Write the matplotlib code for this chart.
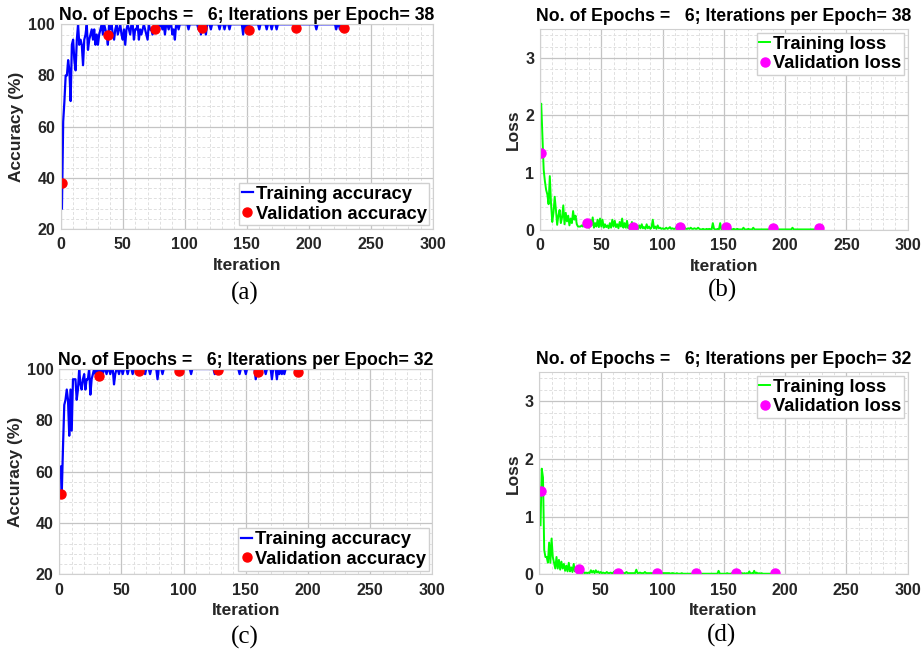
import matplotlib
matplotlib.use("Agg")
import matplotlib.pyplot as plt
from matplotlib.ticker import MultipleLocator

plt.rcParams['font.family'] = ['Liberation Sans', 'DejaVu Sans']
plt.rcParams['font.weight'] = 'bold'

# ---- data ----
title_top = "No. of Epochs =   6; Iterations per Epoch= 38"
title_bot = "No. of Epochs =   6; Iterations per Epoch= 32"

# run 1: 38 iterations per epoch, 228 iterations
acc_a = [28, 62, 70, 80, 80, 86, 82, 70, 92, 94,
         86, 82, 94, 100, 92, 94, 92, 84, 94, 96,
         100, 90, 94, 96, 98, 94, 98, 92, 96, 92,
         96, 98, 100, 96, 100, 98, 96, 92, 100, 98,
         100, 96, 94, 98, 100, 96, 98, 100, 96, 94,
         98, 92, 98, 100, 98, 96, 100, 100, 94, 98,
         98, 100, 94, 98, 96, 98, 100, 98, 96, 94,
         100, 98, 98, 96, 98, 100, 100, 100, 98, 100,
         100, 98, 100, 96, 100, 100, 98, 100, 100, 96,
         98, 94, 100, 100, 98, 100, 100, 100, 100, 100,
         100, 100, 98, 100, 100, 100, 100, 100, 100, 100,
         98, 100, 96, 100, 100, 98, 96, 100, 100, 100,
         98, 100, 100, 100, 100, 100, 100, 98, 100, 100,
         100, 98, 100, 100, 100, 98, 100, 100, 100, 100,
         100, 100, 100, 100, 100, 100, 96, 100, 98, 100,
         98, 100, 100, 100, 100, 100, 100, 100, 100, 98,
         100, 100, 100, 100, 100, 98, 100, 100, 100, 98,
         100, 100, 100, 98, 100, 100, 100, 100, 100, 100,
         100, 100, 100, 100, 100, 100, 100, 100, 100, 100,
         100, 100, 100, 100, 100, 100, 100, 100, 100, 100,
         100, 100, 100, 100, 100, 98, 100, 100, 100, 100,
         100, 100, 100, 100, 100, 100, 100, 100, 100, 100,
         100, 98, 100, 100, 98, 100, 100, 100]
loss_b = [2.20, 1.60, 1.05, 0.85, 0.70, 0.62, 0.45, 0.94, 0.46, 0.14,
          0.30, 0.58, 0.35, 0.09, 0.25, 0.35, 0.12, 0.22, 0.43, 0.10,
          0.30, 0.15, 0.25, 0.08, 0.20, 0.12, 0.33, 0.18, 0.25, 0.10,
          0.06, 0.06, 0.06, 0.08, 0.06, 0.12, 0.06, 0.14, 0.10, 0.04,
          0.18, 0.08, 0.22, 0.04, 0.12, 0.06, 0.18, 0.05, 0.20, 0.06,
          0.18, 0.04, 0.10, 0.05, 0.08, 0.03, 0.12, 0.04, 0.18, 0.06,
          0.16, 0.05, 0.10, 0.03, 0.14, 0.06, 0.20, 0.04, 0.12, 0.04,
          0.16, 0.03, 0.08, 0.03, 0.14, 0.04, 0.06, 0.02, 0.05, 0.02,
          0.08, 0.03, 0.10, 0.03, 0.05, 0.02, 0.10, 0.03, 0.06, 0.02,
          0.04, 0.18, 0.03, 0.06, 0.02, 0.08, 0.03, 0.04, 0.02, 0.03,
          0.02, 0.02, 0.04, 0.02, 0.03, 0.05, 0.02, 0.03, 0.02, 0.02,
          0.04, 0.08, 0.03, 0.05, 0.02, 0.06, 0.03, 0.04, 0.02, 0.02,
          0.03, 0.02, 0.04, 0.02, 0.02, 0.03, 0.02, 0.02, 0.04, 0.02,
          0.01, 0.01, 0.02, 0.01, 0.01, 0.02, 0.01, 0.02, 0.01, 0.01,
          0.12, 0.02, 0.01, 0.01, 0.02, 0.01, 0.12, 0.01, 0.02, 0.01,
          0.02, 0.03, 0.02, 0.01, 0.04, 0.01, 0.01, 0.02, 0.01, 0.01,
          0.02, 0.01, 0.01, 0.01, 0.01, 0.04, 0.01, 0.01, 0.01, 0.02,
          0.01, 0.01, 0.01, 0.04, 0.01, 0.01, 0.01, 0.01, 0.01, 0.01,
          0.01, 0.01, 0.01, 0.01, 0.01, 0.01, 0.01, 0.01, 0.01, 0.01,
          0.01, 0.01, 0.01, 0.01, 0.01, 0.01, 0.01, 0.01, 0.01, 0.01,
          0.01, 0.01, 0.01, 0.01, 0.01, 0.04, 0.01, 0.01, 0.01, 0.01,
          0.01, 0.01, 0.01, 0.01, 0.01, 0.01, 0.01, 0.01, 0.01, 0.01,
          0.01, 0.01, 0.01, 0.01, 0.01, 0.02, 0.01, 0.01]
val_it_1 = [1, 38, 76, 114, 152, 190, 228]
val_acc_1 = [37.8, 95.7, 98.2, 98.4, 97.9, 98.6, 98.4]
val_loss_1 = [1.35, 0.13, 0.05, 0.05, 0.05, 0.03, 0.04]

# run 2: 32 iterations per epoch, 192 iterations
acc_c = [62, 52, 70, 86, 88, 92, 88, 74, 92, 76,
         96, 96, 96, 88, 92, 100, 94, 92, 96, 98,
         92, 96, 96, 100, 90, 96, 98, 100, 98, 100,
         96, 100, 98, 100, 98, 100, 100, 98, 100, 100,
         98, 100, 100, 94, 98, 100, 100, 98, 100, 100,
         98, 100, 100, 100, 98, 100, 100, 100, 98, 100,
         100, 100, 100, 98, 100, 100, 100, 100, 98, 100,
         100, 100, 98, 100, 100, 100, 100, 100, 96, 100,
         100, 100, 98, 100, 100, 100, 100, 100, 100, 100,
         100, 100, 100, 100, 100, 98, 100, 100, 100, 100,
         100, 100, 100, 100, 100, 98, 100, 100, 100, 100,
         100, 100, 100, 100, 100, 100, 100, 100, 100, 100,
         100, 100, 100, 100, 98, 100, 100, 100, 100, 100,
         100, 100, 100, 100, 100, 100, 100, 100, 100, 100,
         100, 100, 100, 100, 98, 100, 100, 100, 100, 98,
         100, 100, 100, 100, 100, 100, 100, 96, 100, 100,
         100, 100, 100, 100, 100, 98, 100, 100, 100, 100,
         96, 100, 100, 100, 96, 100, 98, 100, 98, 100,
         98, 100, 100, 100, 100, 100, 100, 100, 100, 100,
         100, 100]
loss_d = [0.85, 1.83, 1.68, 0.42, 0.30, 0.30, 0.20, 0.55, 0.20, 0.62,
          0.30, 0.20, 0.10, 0.30, 0.10, 0.25, 0.08, 0.22, 0.10, 0.18,
          0.06, 0.15, 0.05, 0.20, 0.05, 0.12, 0.04, 0.18, 0.05, 0.08,
          0.04, 0.05, 0.03, 0.05, 0.02, 0.04, 0.02, 0.03, 0.02, 0.03,
          0.02, 0.07, 0.03, 0.06, 0.02, 0.07, 0.03, 0.05, 0.02, 0.04,
          0.02, 0.03, 0.02, 0.02, 0.04, 0.02, 0.02, 0.03, 0.02, 0.02,
          0.05, 0.02, 0.02, 0.03, 0.02, 0.02, 0.02, 0.03, 0.02, 0.02,
          0.04, 0.02, 0.02, 0.02, 0.02, 0.02, 0.02, 0.02, 0.08, 0.02,
          0.02, 0.03, 0.02, 0.02, 0.02, 0.04, 0.02, 0.02, 0.02, 0.02,
          0.02, 0.02, 0.02, 0.03, 0.02, 0.02, 0.02, 0.02, 0.02, 0.02,
          0.02, 0.02, 0.02, 0.02, 0.02, 0.02, 0.01, 0.02, 0.02, 0.01,
          0.01, 0.02, 0.01, 0.01, 0.01, 0.02, 0.01, 0.01, 0.01, 0.01,
          0.01, 0.01, 0.01, 0.01, 0.01, 0.01, 0.01, 0.01, 0.01, 0.01,
          0.01, 0.01, 0.01, 0.01, 0.01, 0.01, 0.01, 0.01, 0.01, 0.01,
          0.01, 0.01, 0.01, 0.01, 0.01, 0.06, 0.01, 0.01, 0.01, 0.01,
          0.01, 0.01, 0.02, 0.01, 0.01, 0.01, 0.02, 0.03, 0.02, 0.02,
          0.02, 0.01, 0.06, 0.01, 0.02, 0.01, 0.02, 0.01, 0.02, 0.01,
          0.05, 0.01, 0.02, 0.01, 0.06, 0.01, 0.03, 0.01, 0.02, 0.01,
          0.02, 0.01, 0.01, 0.01, 0.01, 0.01, 0.01, 0.01, 0.01, 0.01,
          0.01, 0.01]
val_it_2 = [1, 32, 64, 96, 128, 160, 192]
val_acc_2 = [51.3, 97.3, 99.1, 99.3, 99.7, 98.8, 99.0]
val_loss_2 = [1.45, 0.10, 0.03, 0.03, 0.02, 0.03, 0.03]

W, H = 922, 653
fig = plt.figure(figsize=(W / 100, H / 100), dpi=100)


def make_ax(l, r, t, b):
    return fig.add_axes([l / W, (H - b) / H, (r - l) / W, (b - t) / H])


def style(ax, ylim, ymaj, ymin, ylab):
    ax.set_xlim(0, 300)
    ax.set_ylim(*ylim)
    ax.xaxis.set_major_locator(MultipleLocator(50))
    ax.xaxis.set_minor_locator(MultipleLocator(10))
    ax.yaxis.set_major_locator(MultipleLocator(ymaj))
    ax.yaxis.set_minor_locator(MultipleLocator(ymin))
    ax.grid(which='major', color='#c4c4c4', lw=0.9)
    ax.grid(which='minor', color='#e0e0e0', lw=0.7, ls=(0, (3, 2)))
    ax.set_axisbelow(True)
    ax.tick_params(which='both', length=0, labelsize=11.5, labelcolor='#262626')
    ax.tick_params(axis='x', pad=6)
    ax.tick_params(axis='y', pad=4)
    for s in ax.spines.values():
        s.set_color('#d0d0d0')
    ax.set_xlabel('Iteration', fontsize=12.5, fontweight='bold', color='#262626', labelpad=4)
    ax.set_ylabel(ylab, fontsize=12.5, fontweight='bold', color='#262626', labelpad=3)


def add_legend(ax, loc):
    ax.legend(loc=loc, handlelength=0.6, handletextpad=0.15,
              borderaxespad=0.2, borderpad=0.15, labelspacing=0.15, fancybox=False,
              framealpha=1, edgecolor='#d0d0d0', prop={'weight': 'bold', 'size': 13.2})


def acc_panel(ax, acc, vit, vacc, title):
    it = range(1, len(acc) + 1)
    ax.plot(it, acc, color='#0000ff', lw=1.6, label='Training accuracy')
    ax.plot(vit, vacc, 'o', color='#ff0000', ms=6.5, label='Validation accuracy')
    style(ax, (20, 100), 20, 4, 'Accuracy (%)')
    ax.set_title(title, fontsize=12.7, fontweight='bold', pad=3)
    add_legend(ax, 'lower right')


def loss_panel(ax, loss, vit, vloss, title):
    it = range(1, len(loss) + 1)
    ax.plot(it, loss, color='#00ff00', lw=1.4, label='Training loss')
    ax.plot(vit, vloss, 'o', color='#ff00ff', ms=6.5, label='Validation loss')
    style(ax, (0, 3.5), 1, 0.2, 'Loss')
    ax.set_title(title, fontsize=12.7, fontweight='bold', pad=6)
    add_legend(ax, 'upper right')


ax_a = make_ax(60.7, 433, 24.3, 229)
ax_b = make_ax(540, 907.7, 29.3, 230)
ax_c = make_ax(59.3, 432.3, 369, 574.3)
ax_d = make_ax(539.3, 907.7, 372.3, 574.3)

acc_panel(ax_a, acc_a, val_it_1, val_acc_1, title_top)
loss_panel(ax_b, loss_b, val_it_1, val_loss_1, title_top)
acc_panel(ax_c, acc_c, val_it_2, val_acc_2, title_bot)
loss_panel(ax_d, loss_d, val_it_2, val_loss_2, title_bot)

# panel letters
for txt, x, y in [('(a)', 245, 293), ('(b)', 722, 290), ('(c)', 245, 637), ('(d)', 721, 635)]:
    fig.text(x / W, 1 - y / H, txt, ha='center', va='center', fontsize=18,
             family='Liberation Serif', fontweight='normal')

fig.savefig('out.png', dpi=100)
